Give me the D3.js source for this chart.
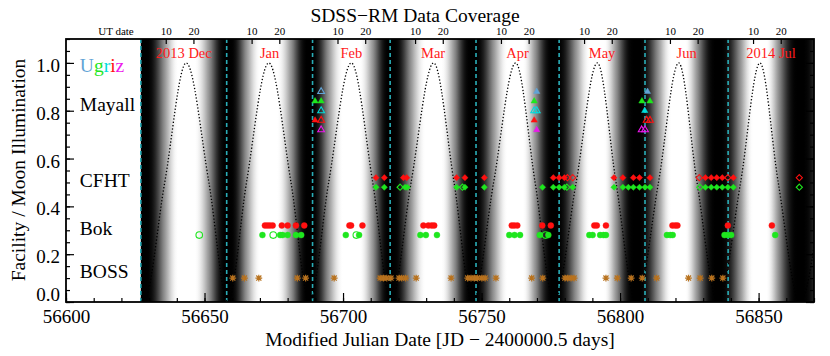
<!DOCTYPE html>
<html>
<head>
<meta charset="utf-8">
<script src="https://cdn.jsdelivr.net/npm/d3@7"></script>
<style>
  body { margin: 0; background: #fff; }
  svg { font-family: "Liberation Serif", "Times New Roman", serif; }
</style>
</head>
<body>
<svg width="830" height="356"></svg>
<script>
// moon phases (quarters) in MJD and illuminated fraction at each one
const phaseMJD = [56621.81, 56628.02, 56635.63, 56643.39, 56651.58, 56658.47, 56665.15, 56673.20,
  56681.22, 56687.90, 56694.81, 56702.99, 56710.72, 56717.33, 56724.56, 56732.71, 56740.07,
  56746.78, 56754.35, 56762.32, 56769.33, 56776.26, 56784.14, 56791.80, 56798.54, 56805.78,
  56813.86, 56821.17, 56827.78, 56835.34, 56843.50, 56850.48, 56857.09, 56864.95, 56872.99];
const phaseIllum = [0.5, 0, 0.5, 1, 0.5, 0, 0.5, 1, 0.5, 0, 0.5, 1, 0.5, 0, 0.5, 1, 0.5,
  0, 0.5, 1, 0.5, 0, 0.5, 1, 0.5, 0, 0.5, 1, 0.5, 0, 0.5, 1, 0.5, 0, 0.5];

// first day of each month (MJD) and month names
const monthStart = [56627, 56658, 56689, 56717, 56748, 56778, 56809, 56839, 56870];
const monthNames = ["2013 Dec", "Jan", "Feb", "Mar", "Apr", "May", "Jun", "2014 Jul"];

// UT date ticks (10th and 20th of each month)
const utTicks = [56636, 56646, 56667, 56677, 56698, 56708, 56726, 56736, 56757, 56767,
  56787, 56797, 56818, 56828, 56848, 56858];
const utLabels = ["10", "20", "10", "20", "10", "20", "10", "20", "10", "20",
  "10", "20", "10", "20", "10", "20"];

// facility labels and the y value they sit at
const facilityNames = ["Mayall", "CFHT", "Bok", "BOSS"];
const facilityY = [0.80, 0.48, 0.28, 0.10];

// BOSS epochs
const bossMJD = [56660.2, 56664.4, 56669.6, 56683.5, 56686.5, 56696.8, 56713.4, 56714.6, 56715.8,
  56717.3, 56720.2, 56721.2, 56722.6, 56726.4, 56739.0, 56745.0, 56746.2, 56747.4, 56748.6,
  56750.1, 56751.3, 56755.2, 56768.1, 56772.1, 56780.1, 56781.1, 56782.3, 56783.4, 56794.9,
  56799.0, 56804.0, 56808.0, 56813.2, 56824.7, 56828.9, 56833.1, 56837.1];

// CFHT epochs (i: red, g: green), open = partial
const cfhtRed = [56711.9, 56714.9, 56721.8, 56723.0, 56741.0, 56744.0, 56751.0, 56775.9, 56778.0,
  56779.9, 56797.8, 56801.0, 56804.8, 56807.0, 56810.8, 56830.8, 56832.9, 56834.9, 56836.9, 56840.9];
const cfhtRedOpen = [56781.0, 56782.9, 56828.6, 56838.9, 56864.7];
const cfhtGreen = [56711.9, 56714.9, 56722.4, 56723.2, 56741.0, 56744.0, 56751.0, 56772.0, 56775.9,
  56778.0, 56779.9, 56782.9, 56797.8, 56801.0, 56803.0, 56804.8, 56807.0, 56809.0, 56810.8,
  56830.8, 56832.9, 56834.9, 56836.9, 56838.9, 56840.9];
const cfhtGreenOpen = [56720.6, 56743.1, 56780.8, 56828.8, 56864.7];

// Bok epochs
const bokRed = [56671.8, 56672.7, 56673.6, 56674.6, 56677.9, 56680.0, 56683.0, 56686.0, 56702.3,
  56702.9, 56707.0, 56729.0, 56730.8, 56732.0, 56732.9, 56760.9, 56761.8, 56762.9, 56771.9,
  56775.0, 56790.7, 56791.6, 56794.9, 56818.9, 56819.9, 56820.7, 56838.9, 56854.8];
const bokGreen = [56670.9, 56677.3, 56678.2, 56680.0, 56683.0, 56684.9, 56701.0, 56705.8, 56727.9,
  56729.9, 56733.9, 56760.0, 56761.9, 56763.9, 56771.0, 56774.1, 56788.9, 56790.1, 56792.8,
  56794.0, 56794.9, 56816.9, 56818.1, 56819.0, 56837.7, 56838.9, 56840.1, 56856.0];
const bokGreenOpen = [56648.1, 56674.8, 56704.8, 56773.1];

// Mayall epochs, one row per band
const mayallU = [56769.9, 56809.9], mayallUOpen = [56692.1];
const mayallG = [56689.9, 56692.1, 56769.0, 56807.9, 56810.8], mayallGOpen = [];
const mayallR = [56808.9], mayallROpen = [56692.1, 56769.0, 56769.9];
const mayallI = [56689.9, 56769.0], mayallIOpen = [56692.1, 56809.6, 56810.8];
const mayallZ = [56769.9], mayallZOpen = [56692.1, 56807.8, 56809.0];
const mayallLevels = [0.88, 0.84, 0.80, 0.76, 0.72];

const bandNames = ["U", "g", "r", "i", "z"];
const bandColors = ["#62a4d6", "#1ee61e", "#00dcdc", "#ff1010", "#ec18ec"];
const bossColor = "#b8721e";

const svg = d3.select("svg");
const margin = { left: 66, right: 814, top: 39, bottom: 302 };

const x = d3.scaleLinear().domain([56600, 56870]).range([margin.left, margin.right]);
const y = d3.scaleLinear().domain([0, 1.1]).range([margin.bottom, margin.top]);

const defs = svg.append("defs");
defs.append("clipPath").attr("id", "plotclip")
  .append("rect")
  .attr("x", x(monthStart[0])).attr("y", margin.top)
  .attr("width", margin.right - x(monthStart[0]))
  .attr("height", margin.bottom - margin.top);

const phases = phaseMJD.map((d, i) => ({ mjd: d, f: phaseIllum[i] }));
const moonLine = d3.line()
  .x(d => x(d.mjd))
  .y(d => y(d.f))
  .curve(d3.curveMonotoneX);

// background shading follows the moon illumination curve
const bgGroup = svg.append("g");
const gradient = defs.append("linearGradient")
  .attr("id", "moonshade")
  .attr("gradientUnits", "userSpaceOnUse")
  .attr("x1", x(monthStart[0])).attr("x2", margin.right)
  .attr("y1", 0).attr("y2", 0);

const curveGroup = svg.append("g").attr("clip-path", "url(#plotclip)");
const moonPath = curveGroup.append("path")
  .datum(phases)
  .attr("d", moonLine)
  .attr("fill", "none");

// grey level from illumination, eased so new moon stays dark and full moon white
const shade = d3.scaleLinear().domain([0, 0.9]).range([0, 1]).clamp(true);
function greyOf(f) {
  const s = shade(f);
  return 255 * s * s * (3 - 2 * s);
}

// sample the curve to build gradient stops
const pathNode = moonPath.node();
const total = pathNode.getTotalLength();
const x0 = x(monthStart[0]), x1 = margin.right;
let lastX = -1e9;
const stops = [];
for (let t = 0; t <= total; t += 0.5) {
  const p = pathNode.getPointAtLength(t);
  if (p.x < x0 - 1 || p.x > x1 + 1) continue;
  if (p.x - lastX < 0.7) continue;
  lastX = p.x;
  const f = Math.max(0, Math.min(1, y.invert(p.y)));
  stops.push({ off: (p.x - x0) / (x1 - x0), f: f });
}
gradient.selectAll("stop")
  .data(stops)
  .enter().append("stop")
  .attr("offset", d => Math.max(0, Math.min(1, d.off)))
  .attr("stop-color", d => { const g = greyOf(d.f); return d3.rgb(g, g, g); });

bgGroup.append("rect")
  .attr("x", x0).attr("y", margin.top)
  .attr("width", x1 - x0).attr("height", margin.bottom - margin.top)
  .attr("fill", "url(#moonshade)");

// month boundaries
bgGroup.selectAll(".month-line")
  .data(monthStart.slice(0, 8))
  .enter().append("line")
  .attr("class", "month-line")
  .attr("x1", d => x(d)).attr("x2", d => x(d))
  .attr("y1", margin.top).attr("y2", margin.bottom)
  .attr("stroke", "#2aaeb8")
  .attr("stroke-width", 1.6)
  .attr("stroke-dasharray", "4,3");

// dotted moon curve on top of the shading
moonPath.attr("stroke", "#000")
  .attr("stroke-width", 1.3)
  .attr("stroke-dasharray", "1.3,2");
curveGroup.raise();

// month names
svg.selectAll(".month-name")
  .data(monthNames)
  .enter().append("text")
  .attr("class", "month-name")
  .attr("x", (d, i) => x((monthStart[i] + monthStart[i + 1]) / 2))
  .attr("y", 58)
  .attr("text-anchor", "middle")
  .attr("font-size", 14.5)
  .attr("fill", "#ff1a1a")
  .text(d => d);

// markers
const marks = svg.append("g").attr("class", "marks");

function diamond(r) {
  return `M0,${-r}L${r},0L0,${r}L${-r},0Z`;
}
function asterisk(r) {
  const q = r * 0.75;
  return `M${-r},0H${r}M0,${-r}V${r}M${-q},${-q}L${q},${q}M${-q},${q}L${q},${-q}`;
}

function drawCircles(mjds, level, color, open) {
  marks.append("g").selectAll("circle")
    .data(mjds)
    .enter().append("circle")
    .attr("cx", d => x(d))
    .attr("cy", y(level))
    .attr("r", open ? 3.3 : 3.0)
    .attr("fill", open ? "none" : color)
    .attr("stroke", color)
    .attr("stroke-width", open ? 1.1 : 0.4);
}

function drawPath(mjds, level, color, shape, open, width) {
  marks.append("g").selectAll("path")
    .data(mjds)
    .enter().append("path")
    .attr("transform", d => `translate(${x(d)},${y(level)})`)
    .attr("d", shape)
    .attr("fill", open ? "none" : color)
    .attr("stroke", color)
    .attr("stroke-width", width || (open ? 1.1 : 0.5));
}

drawPath(bossMJD, 0.10, bossColor, asterisk(3.4), true, 1.2);

drawCircles(bokRed, 0.32, bandColors[3], false);
drawCircles(bokGreen, 0.28, bandColors[1], false);
drawCircles(bokGreenOpen, 0.28, bandColors[1], true);

drawPath(cfhtRed, 0.52, bandColors[3], diamond(3.1), false);
drawPath(cfhtRedOpen, 0.52, bandColors[3], diamond(3.1), true);
drawPath(cfhtGreen, 0.48, bandColors[1], diamond(3.1), false);
drawPath(cfhtGreenOpen, 0.48, bandColors[1], diamond(3.1), true);

const triFilled = d3.symbol(d3.symbolTriangle, 17)();
const triOpen = d3.symbol(d3.symbolTriangle, 20)();
const mayallFilled = [mayallU, mayallG, mayallR, mayallI, mayallZ];
const mayallOpen = [mayallUOpen, mayallGOpen, mayallROpen, mayallIOpen, mayallZOpen];
mayallFilled.forEach((arr, i) => {
  drawPath(arr, mayallLevels[i], bandColors[i], triFilled, false);
  drawPath(mayallOpen[i], mayallLevels[i], bandColors[i], triOpen, true);
});

// facility labels
svg.selectAll(".facility")
  .data(facilityNames)
  .enter().append("text")
  .attr("class", "facility")
  .attr("x", x(56605))
  .attr("y", (d, i) => y(facilityY[i]))
  .attr("font-size", 19.5)
  .text(d => d);

const legend = svg.append("text")
  .attr("x", x(56605))
  .attr("y", y(0.96))
  .attr("font-size", 19.5);
legend.selectAll("tspan")
  .data(bandNames)
  .enter().append("tspan")
  .attr("fill", (d, i) => bandColors[i])
  .text(d => d);

// frame
svg.append("rect")
  .attr("x", margin.left).attr("y", margin.top)
  .attr("width", margin.right - margin.left)
  .attr("height", margin.bottom - margin.top)
  .attr("fill", "none")
  .attr("stroke", "#000")
  .attr("stroke-width", 1.8);

function styleAxis(g) {
  g.select(".domain").remove();
  g.selectAll("line").attr("stroke", "#000").attr("stroke-width", 1.2);
  g.attr("font-family", null).attr("font-size", 19);
  g.selectAll("text").attr("fill", "#000");
}

// bottom axis
svg.append("g")
  .attr("transform", `translate(0,${margin.bottom})`)
  .call(d3.axisBottom(x).tickValues(d3.range(56600, 56871, 10)).tickFormat("").tickSizeInner(-4).tickSizeOuter(0))
  .call(styleAxis);
svg.append("g")
  .attr("transform", `translate(0,${margin.bottom})`)
  .call(d3.axisBottom(x).tickValues(d3.range(56600, 56851, 50)).tickFormat(d3.format("d"))
    .tickSizeInner(-9).tickSizeOuter(0).tickPadding(8))
  .call(styleAxis);

// left and right axes
const yMinor = d3.range(0, 23).map(i => i * 0.05);
const yMajor = [0, 0.2, 0.4, 0.6, 0.8, 1.0];
svg.append("g")
  .attr("transform", `translate(${margin.left},0)`)
  .call(d3.axisLeft(y).tickValues(yMinor).tickFormat("").tickSizeInner(-4).tickSizeOuter(0))
  .call(styleAxis);
const yAxisG = svg.append("g")
  .attr("transform", `translate(${margin.left},0)`)
  .call(d3.axisLeft(y).tickValues(yMajor).tickFormat(d3.format(".1f"))
    .tickSizeInner(-8).tickSizeOuter(0).tickPadding(6))
  .call(styleAxis);
yAxisG.selectAll("text").attr("dy", (d) => d === 0 ? "-0.1em" : "0.45em");

svg.append("g")
  .attr("transform", `translate(${margin.right},0)`)
  .call(d3.axisRight(y).tickValues(yMinor).tickFormat("").tickSizeInner(-4).tickSizeOuter(0))
  .call(styleAxis);
svg.append("g")
  .attr("transform", `translate(${margin.right},0)`)
  .call(d3.axisRight(y).tickValues(yMajor).tickFormat("").tickSizeInner(-8).tickSizeOuter(0))
  .call(styleAxis);

// top UT date axis
const topG = svg.append("g")
  .attr("transform", `translate(0,${margin.top})`)
  .call(d3.axisTop(x).tickValues(utTicks).tickFormat((d, i) => utLabels[i])
    .tickSizeInner(-5).tickSizeOuter(0).tickPadding(4))
  .call(styleAxis);
topG.attr("font-size", 11);

svg.append("text")
  .attr("x", 116).attr("y", 35)
  .attr("text-anchor", "middle")
  .attr("font-size", 11)
  .text("UT date");

// titles
svg.append("text")
  .attr("x", 415).attr("y", 21.5)
  .attr("text-anchor", "middle")
  .attr("font-size", 19.5)
  .text("SDSS\u2212RM Data Coverage");

svg.append("text")
  .attr("x", 440).attr("y", 346)
  .attr("text-anchor", "middle")
  .attr("font-size", 19.5)
  .text("Modified Julian Date [JD \u2212 2400000.5 days]");

svg.append("text")
  .attr("transform", "translate(25,170) rotate(-90)")
  .attr("text-anchor", "middle")
  .attr("font-size", 19.5)
  .text("Facility / Moon Illumination");
</script>
</body>
</html>
